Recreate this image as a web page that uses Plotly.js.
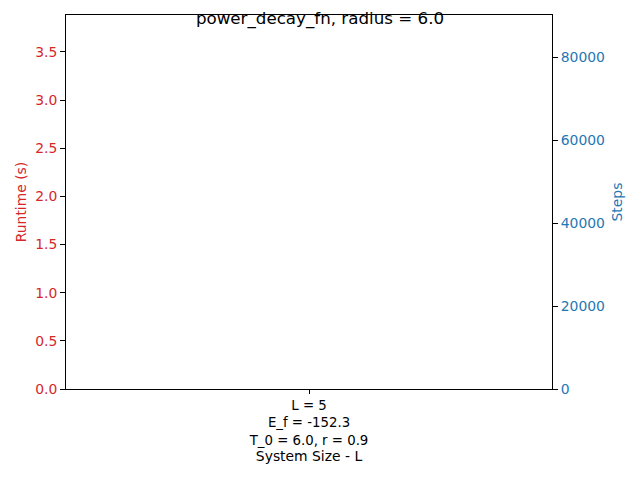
<!DOCTYPE html>
<html>
<head>
<meta charset="utf-8">
<script src="https://cdn.plot.ly/plotly-3.0.1.min.js"></script>
<style>html,body{margin:0;padding:0;background:#fff;}#chart{width:640px;height:480px;}</style>
</head>
<body>
<div id="chart"></div>
<script>
// Data (no visible marks in the reference; values inferred from axis autoscale)
const categories = ["L = 5<br>E_f = -152.3<br>T_0 = 6.0, r = 0.9"];
const runtimeValues = [3.70];
const stepValues = [85829];
const runtimeRange = [0, 3.884];
const stepRange = [0, 90120];

const red = '#d62728';
const blue = '#1f77b4';
const font = 'DejaVu Sans, sans-serif';

const traces = [
  {x: categories, y: runtimeValues, type: 'scatter', mode: 'lines', line: {color: red}, xaxis: 'x', yaxis: 'y', showlegend: false, hoverinfo: 'skip'},
  {x: categories, y: stepValues, type: 'scatter', mode: 'lines', line: {color: blue}, xaxis: 'x', yaxis: 'y2', showlegend: false, hoverinfo: 'skip'}
];

const layout = {
  width: 640, height: 480,
  margin: {l: 66, r: 88, t: 15, b: 91, pad: 0},
  paper_bgcolor: '#fff', plot_bgcolor: '#fff',
  font: {family: font, size: 13.9, color: '#000'},
  title: {text: 'power_decay_fn, radius = 6.0', font: {family: font, size: 16.7, color: '#000'},
          xref: 'container', x: 0.5, xanchor: 'center', yref: 'container', y: 1 - 18/480, yanchor: 'middle'},
  xaxis: {
    type: 'category', range: [-1, 1], showgrid: false, zeroline: false,
    showline: true, linecolor: '#000', linewidth: 1, mirror: true,
    ticks: 'outside', ticklen: 4, tickcolor: '#000', tickwidth: 1,
    tickfont: {family: font, size: 13.3, color: '#000'},
    title: {text: 'System Size - L', font: {family: font, size: 13.9, color: '#000'}, standoff: 3}
  },
  yaxis: {
    range: runtimeRange, dtick: 0.5, tick0: 0, tickformat: '.1f',
    showgrid: false, zeroline: false, showline: true, linecolor: '#000', linewidth: 1,
    ticks: 'outside', ticklen: 5, tickcolor: '#000',
    tickfont: {family: font, size: 13.9, color: red},
    title: {text: 'Runtime (s)', font: {family: font, size: 13.9, color: red}, standoff: 5}
  },
  yaxis2: {
    range: stepRange, dtick: 20000, tick0: 0, tickformat: 'd',
    overlaying: 'y', side: 'right', anchor: 'x',
    showgrid: false, zeroline: false, showline: true, linecolor: '#000', linewidth: 1,
    ticks: 'outside', ticklen: 5, tickcolor: '#000',
    tickfont: {family: font, size: 13.9, color: blue},
    title: {text: 'Steps', font: {family: font, size: 13.9, color: blue}, standoff: 8}
  }
};

Plotly.newPlot('chart', traces, layout, {staticPlot: true, displayModeBar: false});
</script>
</body>
</html>
